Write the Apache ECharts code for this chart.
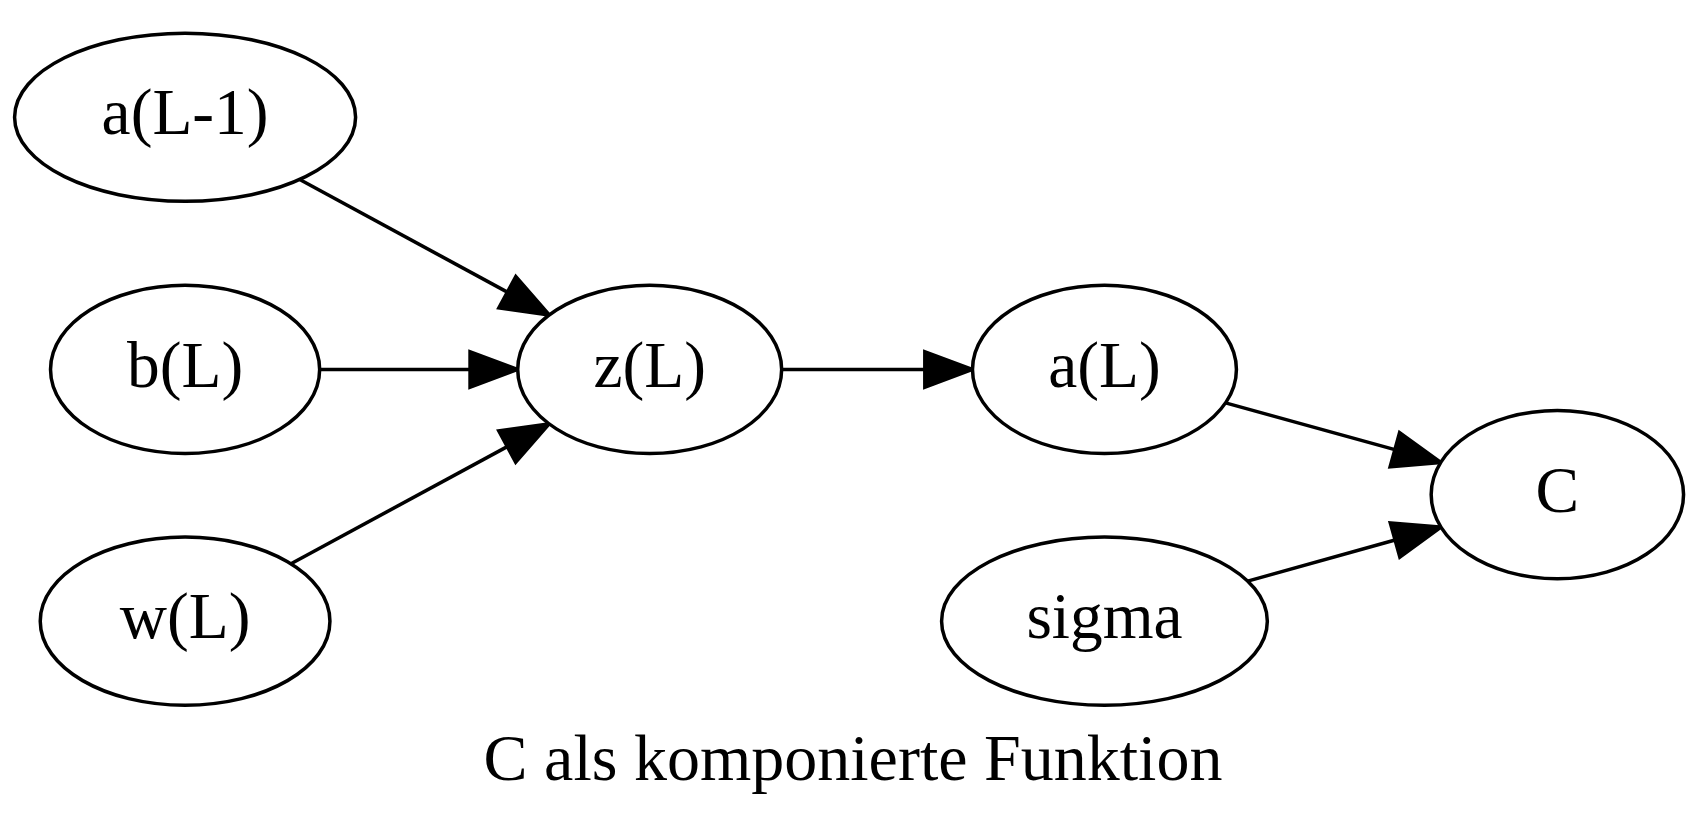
<!DOCTYPE html>
<html>
<head>
<meta charset="UTF-8">
<script src="https://cdnjs.cloudflare.com/ajax/libs/echarts/6.0.0/echarts.min.js"></script>
<style>
  html, body { margin: 0; padding: 0; background: #fff; }
  #graph { width: 1706px; height: 822px; }
</style>
</head>
<body>
<div id="graph"></div>
<script>
  // nodes (layout in points, y from top)
  var nodeNames = ['a(L-1)', 'b(L)', 'w(L)', 'z(L)', 'a(L)', 'sigma', 'C'];
  var nodeX = [39.6, 39.6, 39.6, 139, 236.3, 236.3, 333.2];
  var nodeY = [25.1, 79.1, 133, 79.1, 79.1, 133, 105.9];

  // edges: index into nodeNames
  var edgeFrom = [0, 1, 2, 3, 4, 5];
  var edgeTo   = [3, 3, 3, 4, 6, 6];

  var graphTitle = 'C als komponierte Funktion';

  var FONT = "'Liberation Serif', 'Times New Roman', serif";
  var FONT_PT = 14;
  var PEN = 3.5;

  // node width like graphviz: text + margin, scaled for the ellipse
  var ctx = document.createElement('canvas').getContext('2d');
  ctx.font = '100px ' + FONT;
  var nodeRx = nodeNames.map(function (n) {
    var w = ctx.measureText(n).width / 100 * FONT_PT;
    return Math.max(27, (w + 15.84) * Math.SQRT2 / 2);
  });
  var nodeRy = 18;

  var chart = echarts.init(document.getElementById('graph'));

  function renderNode(params, api) {
    var i = params.dataIndex;
    var c = api.coord([api.value(0), api.value(1)]);
    var unit = api.size([1, 1]);
    return {
      type: 'group',
      children: [{
        type: 'ellipse',
        shape: { cx: c[0], cy: c[1], rx: nodeRx[i] * unit[0], ry: nodeRy * unit[1] },
        style: { fill: '#fff', stroke: '#000', lineWidth: PEN }
      }, {
        type: 'text',
        x: c[0],
        y: c[1],
        style: {
          text: nodeNames[i],
          fontFamily: FONT,
          fontSize: FONT_PT * unit[1],
          fill: '#000',
          align: 'center',
          verticalAlign: 'middle'
        }
      }]
    };
  }

  function renderEdge(params, api) {
    var f = edgeFrom[params.dataIndex], t = edgeTo[params.dataIndex];
    var unit = api.size([1, 1]);
    var p0 = api.coord([nodeX[f], nodeY[f]]);
    var p1 = api.coord([nodeX[t], nodeY[t]]);
    var dx = p1[0] - p0[0], dy = p1[1] - p0[1];
    var len = Math.sqrt(dx * dx + dy * dy);
    var ux = dx / len, uy = dy / len;
    // where the centre line leaves each ellipse
    function cut(i) {
      var rx = nodeRx[i] * unit[0], ry = nodeRy * unit[1];
      return 1 / Math.sqrt((ux / rx) * (ux / rx) + (uy / ry) * (uy / ry));
    }
    var k0 = cut(f), k1 = cut(t);
    var start = [p0[0] + ux * k0, p0[1] + uy * k0];
    var tip = [p1[0] - ux * k1, p1[1] - uy * k1];
    var aLen = 10.2 * unit[0], aHalf = 3.8 * unit[0];
    var base = [tip[0] - ux * aLen, tip[1] - uy * aLen];
    return {
      type: 'group',
      children: [{
        type: 'line',
        shape: { x1: start[0], y1: start[1], x2: base[0], y2: base[1] },
        style: { stroke: '#000', lineWidth: PEN }
      }, {
        type: 'polygon',
        shape: {
          points: [
            tip,
            [base[0] - uy * aHalf, base[1] + ux * aHalf],
            [base[0] + uy * aHalf, base[1] - ux * aHalf]
          ]
        },
        style: { fill: '#000', stroke: '#000', lineWidth: PEN, lineJoin: 'miter' }
      }]
    };
  }

  var option = {
    backgroundColor: '#fff',
    animation: false,
    title: {
      text: graphTitle,
      left: 'center',
      top: 725,
      textStyle: { fontFamily: FONT, fontSize: 66, fontWeight: 'normal', color: '#000' }
    },
    grid: { left: 0, right: 0, top: 0, bottom: 0 },
    xAxis: { type: 'value', min: 0, max: 365, show: false },
    yAxis: { type: 'value', min: 0, max: 176, inverse: true, show: false },
    series: [{
      type: 'custom',
      renderItem: renderEdge,
      encode: { x: [0, 2], y: [1, 3] },
      data: edgeFrom.map(function (f, i) {
        return [nodeX[f], nodeY[f], nodeX[edgeTo[i]], nodeY[edgeTo[i]]];
      }),
      z: 1
    }, {
      type: 'custom',
      renderItem: renderNode,
      encode: { x: 0, y: 1 },
      data: nodeNames.map(function (n, i) { return [nodeX[i], nodeY[i]]; }),
      z: 2
    }]
  };

  chart.setOption(option);
</script>
</body>
</html>
